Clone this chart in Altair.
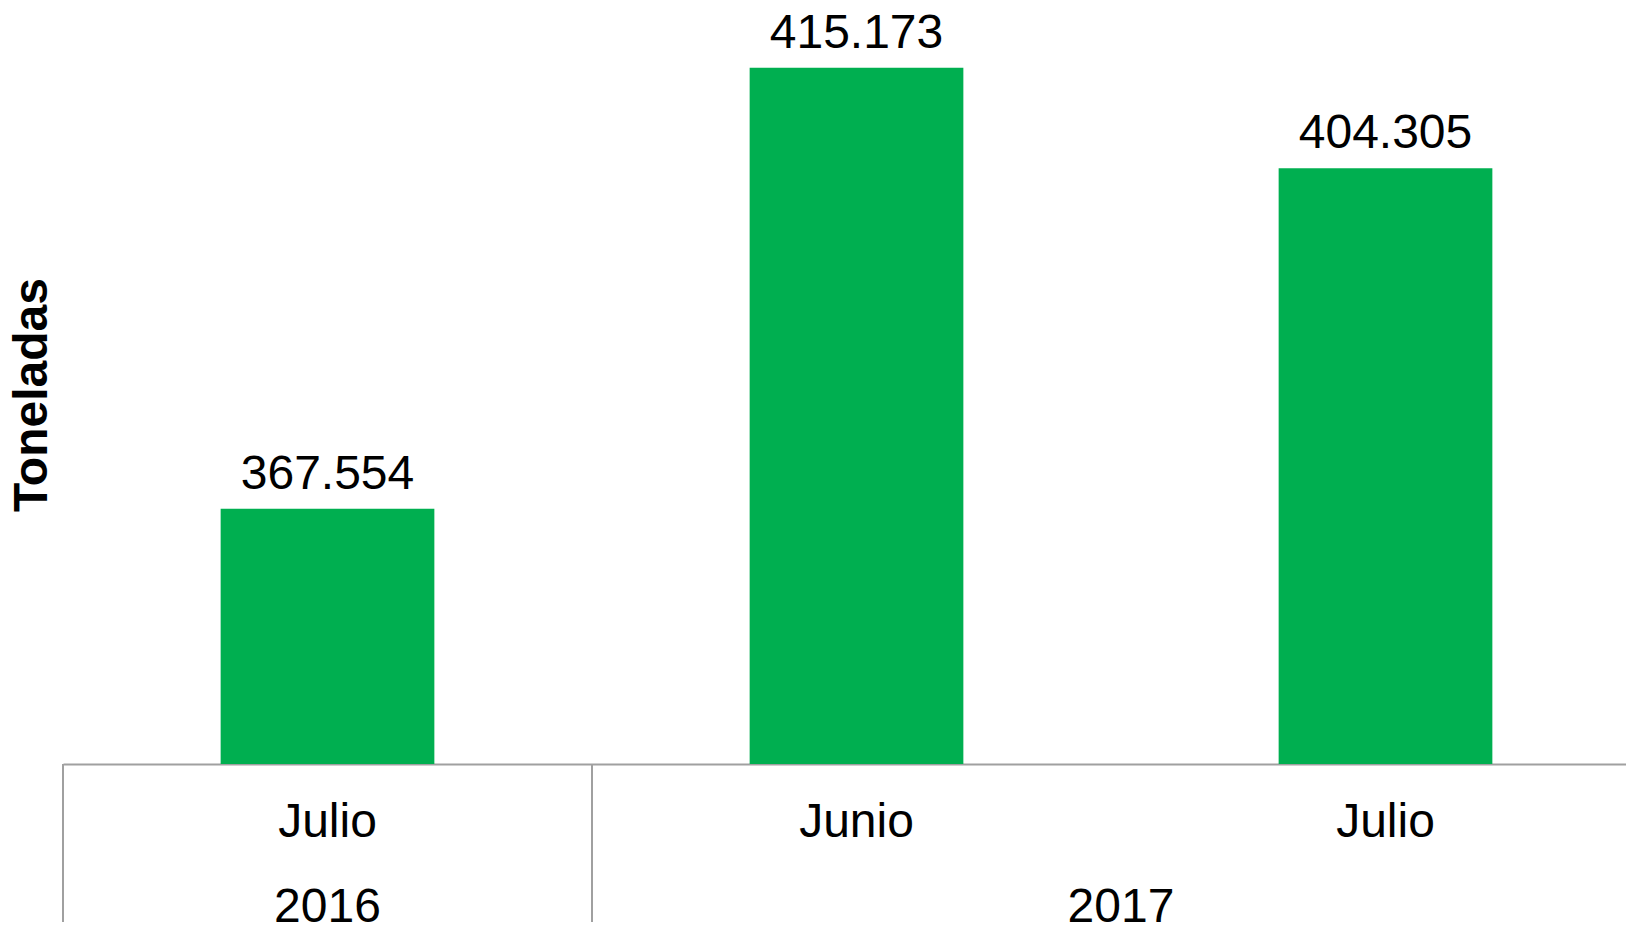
import altair as alt
import pandas as pd

# ---- data ----
years = ["2016", "2017", "2017"]
months = ["Julio", "Junio", "Julio"]
toneladas = [367554, 415173, 404305]

Y_MIN = 340000
Y_MAX = 420000

GREEN = "#00AF50"
GRAY = "#A0A0A0"
FONT = "Liberation Sans"

keys = [f"{y}-{m}" for y, m in zip(years, months)]
df = pd.DataFrame({
    "key": keys,
    "year": years,
    "month": months,
    "value": toneladas,
    "label": [f"{v:,}".replace(",", ".") for v in toneladas],
    "idx": list(range(len(keys))),
})
df["center"] = df["idx"] + 0.5

year_df = (
    df.groupby("year", sort=False)
    .agg(center=("center", "mean"), start=("idx", "min"))
    .reset_index()
)

N = len(keys)
STEP = 529
RANGE = [0, STEP * N]

band_scale = alt.Scale(domain=keys, range=RANGE, paddingInner=0.596, paddingOuter=0.298)
q_scale = alt.Scale(domain=[0, N], range=RANGE, zero=False, nice=False)
y_scale = alt.Scale(domain=[Y_MIN, Y_MAX], zero=False, nice=False)

bars = alt.Chart(df).mark_bar(color=GREEN).encode(
    x=alt.X(
        "key:N",
        sort=keys,
        scale=band_scale,
        title=None,
        axis=alt.Axis(
            labelExpr="split(datum.value, '-')[1]",
            labelFont=FONT,
            labelFontSize=48,
            labelColor="black",
            labelAngle=0,
            labelPadding=34,
            ticks=False,
            tickSize=0,
            domainColor=GRAY,
            domainWidth=2,
            grid=False,
        ),
    ),
    y=alt.Y("value:Q", scale=y_scale, axis=None),
    y2=alt.datum(Y_MIN),
)

value_labels = alt.Chart(df).mark_text(
    font=FONT, fontSize=48, color="black", baseline="alphabetic", dy=-20
).encode(
    x=alt.X("key:N", sort=keys, scale=band_scale, axis=None),
    y=alt.Y("value:Q", scale=y_scale, axis=None),
    text="label:N",
)

year_text = alt.Chart(year_df).mark_text(
    font=FONT, fontSize=48, color="black", baseline="alphabetic"
).encode(
    x=alt.X("center:Q", scale=q_scale, axis=None),
    y=alt.value(899),
    text="year:N",
)

year_rules = alt.Chart(year_df).mark_rule(color=GRAY, strokeWidth=2).encode(
    x=alt.X("start:Q", scale=q_scale, axis=None),
    y=alt.value(741),
    y2=alt.value(1000),
)

title_text = alt.Chart(pd.DataFrame({"t": ["Toneladas"]})).mark_text(
    font=FONT, fontSize=48, fontWeight="bold", color="black", angle=270,
    baseline="middle", align="center",
).encode(
    x=alt.value(-30),
    y=alt.value(372),
    text="t:N",
)

chart = (
    alt.layer(bars, value_labels, year_text, year_rules, title_text)
    .resolve_scale(x="independent")
    .properties(
        width=1563,
        height=741,
        background="white",
        autosize=alt.AutoSizeParams(type="none"),
        padding={"left": 55, "top": 15, "right": 0, "bottom": 158},
    )
    .configure_view(strokeWidth=0, stroke="transparent")
)

chart.save("out.html", embed_options={"renderer": "svg", "actions": False})
